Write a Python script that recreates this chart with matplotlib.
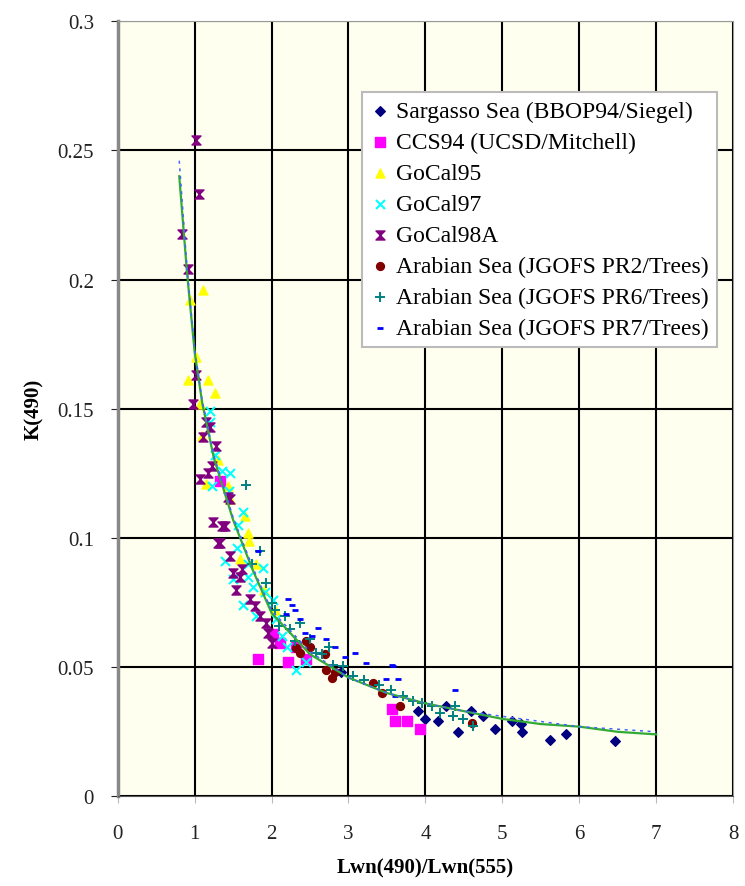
import matplotlib.pyplot as plt
from matplotlib.path import Path

plt.rcParams['font.family'] = ['Liberation Serif', 'DejaVu Serif']

# fitted curves
fit_x = [0.8, 0.9, 1.0, 1.1, 1.25, 1.5, 1.75, 2.0, 2.5, 3.0, 3.5, 4.0, 4.5, 5.0, 5.5, 6.0, 6.5, 7.0]
fit_k = [0.240, 0.203, 0.172, 0.152, 0.131, 0.107, 0.088, 0.071, 0.055, 0.046, 0.040, 0.036, 0.033, 0.030, 0.028, 0.027, 0.025, 0.024]
fit2_k = [0.246, 0.205, 0.173, 0.153, 0.132, 0.108, 0.089, 0.072, 0.056, 0.046, 0.040, 0.036, 0.033, 0.031, 0.029, 0.027, 0.026, 0.025]

# Sargasso Sea (BBOP94/Siegel)
sar_x = [4.0, 4.17, 4.27, 4.43, 4.59, 4.75, 4.91, 5.12, 5.24, 5.26, 5.62, 5.83, 6.46, 3.9, 2.9]
sar_k = [0.030, 0.029, 0.035, 0.025, 0.033, 0.031, 0.026, 0.029, 0.028, 0.025, 0.022, 0.024, 0.0215, 0.033, 0.048]
# CCS94 (UCSD/Mitchell)
ccs_x = [1.33, 1.82, 2.11, 2.21, 2.45, 3.56, 3.61, 3.76, 3.93, 2.02, 2.32]
ccs_k = [0.122, 0.053, 0.0595, 0.052, 0.053, 0.034, 0.029, 0.029, 0.026, 0.063, 0.058]
# GoCal95
gc95_x = [1.11, 0.94, 1.02, 0.91, 1.17, 1.27, 1.07, 1.09, 1.15, 1.43, 1.46, 1.65, 1.69, 1.71, 1.59, 1.80, 1.9, 2.05, 1.3]
gc95_k = [0.196, 0.192, 0.170, 0.161, 0.161, 0.156, 0.152, 0.1395, 0.121, 0.120, 0.115, 0.1085, 0.102, 0.099, 0.092, 0.090, 0.080, 0.072, 0.130]
# GoCal97
gc97_x = [1.46, 1.22, 1.20, 1.20, 1.26, 1.56, 1.89, 1.63, 1.39, 1.50, 1.69, 1.63, 1.76, 1.91, 2.06, 2.13, 2.32, 2.02, 1.35, 1.45, 1.8, 2.2, 2.45, 1.55, 1.7]
gc97_k = [0.125, 0.120, 0.149, 0.145, 0.132, 0.105, 0.0885, 0.110, 0.091, 0.084, 0.085, 0.074, 0.081, 0.079, 0.0685, 0.062, 0.049, 0.076, 0.126, 0.118, 0.070, 0.058, 0.052, 0.096, 0.090]
# GoCal98A
gc98_x = [1.02, 1.06, 0.84, 0.91, 1.02, 0.98, 1.20, 1.11, 1.28, 1.22, 1.07, 1.17, 1.43, 1.24, 1.35, 1.30, 1.46, 1.50,
          1.39, 1.33, 1.59, 1.54, 1.72, 1.78, 1.93, 1.96, 2.0, 1.46, 1.62, 1.85, 1.15]
gc98_k = [0.254, 0.233, 0.2176, 0.204, 0.163, 0.152, 0.143, 0.139, 0.1355, 0.128, 0.123, 0.125, 0.116, 0.106, 0.1045, 0.098, 0.093, 0.0866,
          0.1045, 0.098, 0.085, 0.080, 0.0763, 0.0737, 0.067, 0.0633, 0.0595, 0.115, 0.088, 0.070, 0.145]
# Arabian Sea (JGOFS PR2/Trees)
pr2_x = [2.32, 2.37, 2.69, 2.71, 2.82, 3.32, 3.43, 3.67, 4.6, 2.45, 2.5, 2.78]
pr2_k = [0.0576, 0.0556, 0.055, 0.049, 0.048, 0.044, 0.040, 0.035, 0.0285, 0.060, 0.058, 0.046]
# Arabian Sea (JGOFS PR6/Trees)
pr6_x = [1.67, 1.85, 1.93, 2.0, 2.17, 2.24, 2.37, 2.50, 2.58, 2.93, 3.06, 3.71, 3.84, 4.08, 4.19, 4.36, 4.38, 4.49, 4.62,
         2.1, 2.3, 2.65, 2.8, 3.2, 3.4, 3.55, 3.95, 1.75, 2.05, 2.75]
pr6_k = [0.1204, 0.095, 0.0827, 0.075, 0.0698, 0.0646, 0.0672, 0.0608, 0.0556, 0.0504, 0.0466, 0.0388, 0.0369, 0.035, 0.0324, 0.0311, 0.035, 0.030, 0.0272,
         0.066, 0.060, 0.055, 0.051, 0.045, 0.043, 0.041, 0.036, 0.090, 0.072, 0.058]
# Arabian Sea (JGOFS PR7/Trees)
pr7_x = [1.83, 2.21, 2.27, 2.19, 2.37, 2.43, 2.52, 2.71, 2.82, 3.08, 3.23, 3.58, 3.56, 3.49, 3.64, 4.38, 3.60, 2.3, 2.6, 2.95]
pr7_k = [0.095, 0.0763, 0.074, 0.0704, 0.0685, 0.0634, 0.062, 0.0608, 0.058, 0.0556, 0.0517, 0.0504, 0.0507, 0.0453, 0.0453, 0.041, 0.039, 0.072, 0.065, 0.054]

hourglass = Path([(-1, 1), (1, 1), (-1, -1), (1, -1), (-1, 1)], closed=True)

fig = plt.figure(figsize=(7.45, 8.87), dpi=100)
ax = fig.add_axes([0.158, 0.101, 0.826, 0.874])
ax.set_facecolor('#FFFFF0')

ax.plot(fit_x, fit_k, color='#33aa33', lw=1.6, zorder=5)
ax.plot(fit_x, fit2_k, color='#4466ff', lw=1.1, ls=(0, (2, 3)), zorder=6)

ax.scatter(sar_x, sar_k, marker='D', s=24, color='#000080', label='Sargasso Sea (BBOP94/Siegel)', zorder=4)
ax.scatter(ccs_x, ccs_k, marker='s', s=42, color='#FF00FF', label='CCS94 (UCSD/Mitchell)', zorder=4)
ax.scatter(gc95_x, gc95_k, marker='^', s=42, color='#FFFF00', label='GoCal95', zorder=4)
ax.scatter(gc97_x, gc97_k, marker='x', s=42, color='#00FFFF', lw=1.5, label='GoCal97', zorder=4)
ax.scatter(gc98_x, gc98_k, marker=hourglass, s=42, color='#800080', label='GoCal98A', zorder=4)
ax.scatter(pr2_x, pr2_k, marker='o', s=32, color='#800000', label='Arabian Sea (JGOFS PR2/Trees)', zorder=4)
ax.scatter(pr6_x, pr6_k, marker='+', s=55, color='#008080', lw=1.4, label='Arabian Sea (JGOFS PR6/Trees)', zorder=4)
ax.scatter(pr7_x, pr7_k, marker='_', s=18, color='#0000FF', lw=2.0, label='Arabian Sea (JGOFS PR7/Trees)', zorder=4)

ax.set_xlim(0, 8)
ax.set_ylim(0, 0.3)
ax.set_xticks(range(0, 9))
ax.set_yticks([0, 0.05, 0.1, 0.15, 0.2, 0.25, 0.3])
ax.set_yticklabels(['0', '0.05', '0.1', '0.15', '0.2', '0.25', '0.3'])
ax.grid(True, color='black', lw=1.5)
ax.set_axisbelow(True)
ax.tick_params(labelsize=15, colors='#222222', length=5, direction='out')
ax.tick_params(axis='x', pad=15, colors='#bbbbbb', labelcolor='#222222')
ax.tick_params(axis='y', pad=12, colors='#222222')
for side in ['top', 'right']:
    ax.spines[side].set_color('#999999')
ax.spines['left'].set_color('#888888')
ax.spines['left'].set_linewidth(2.5)
ax.spines['bottom'].set_color('#555555')

ax.set_xlabel('Lwn(490)/Lwn(555)', fontsize=15, fontweight='bold', labelpad=10)
ax.set_ylabel('K(490)', fontsize=15, fontweight='bold', labelpad=10)

leg = ax.legend(loc='upper left', bbox_to_anchor=(0.397, 0.908), fontsize=17, frameon=True,
                fancybox=False, framealpha=1, edgecolor='#bbbbbb', handletextpad=0.3,
                borderpad=0.35, labelspacing=0.4, handlelength=0.8, borderaxespad=0)
leg.get_frame().set_linewidth(1.5)

fig.savefig('out.png', dpi=100)
